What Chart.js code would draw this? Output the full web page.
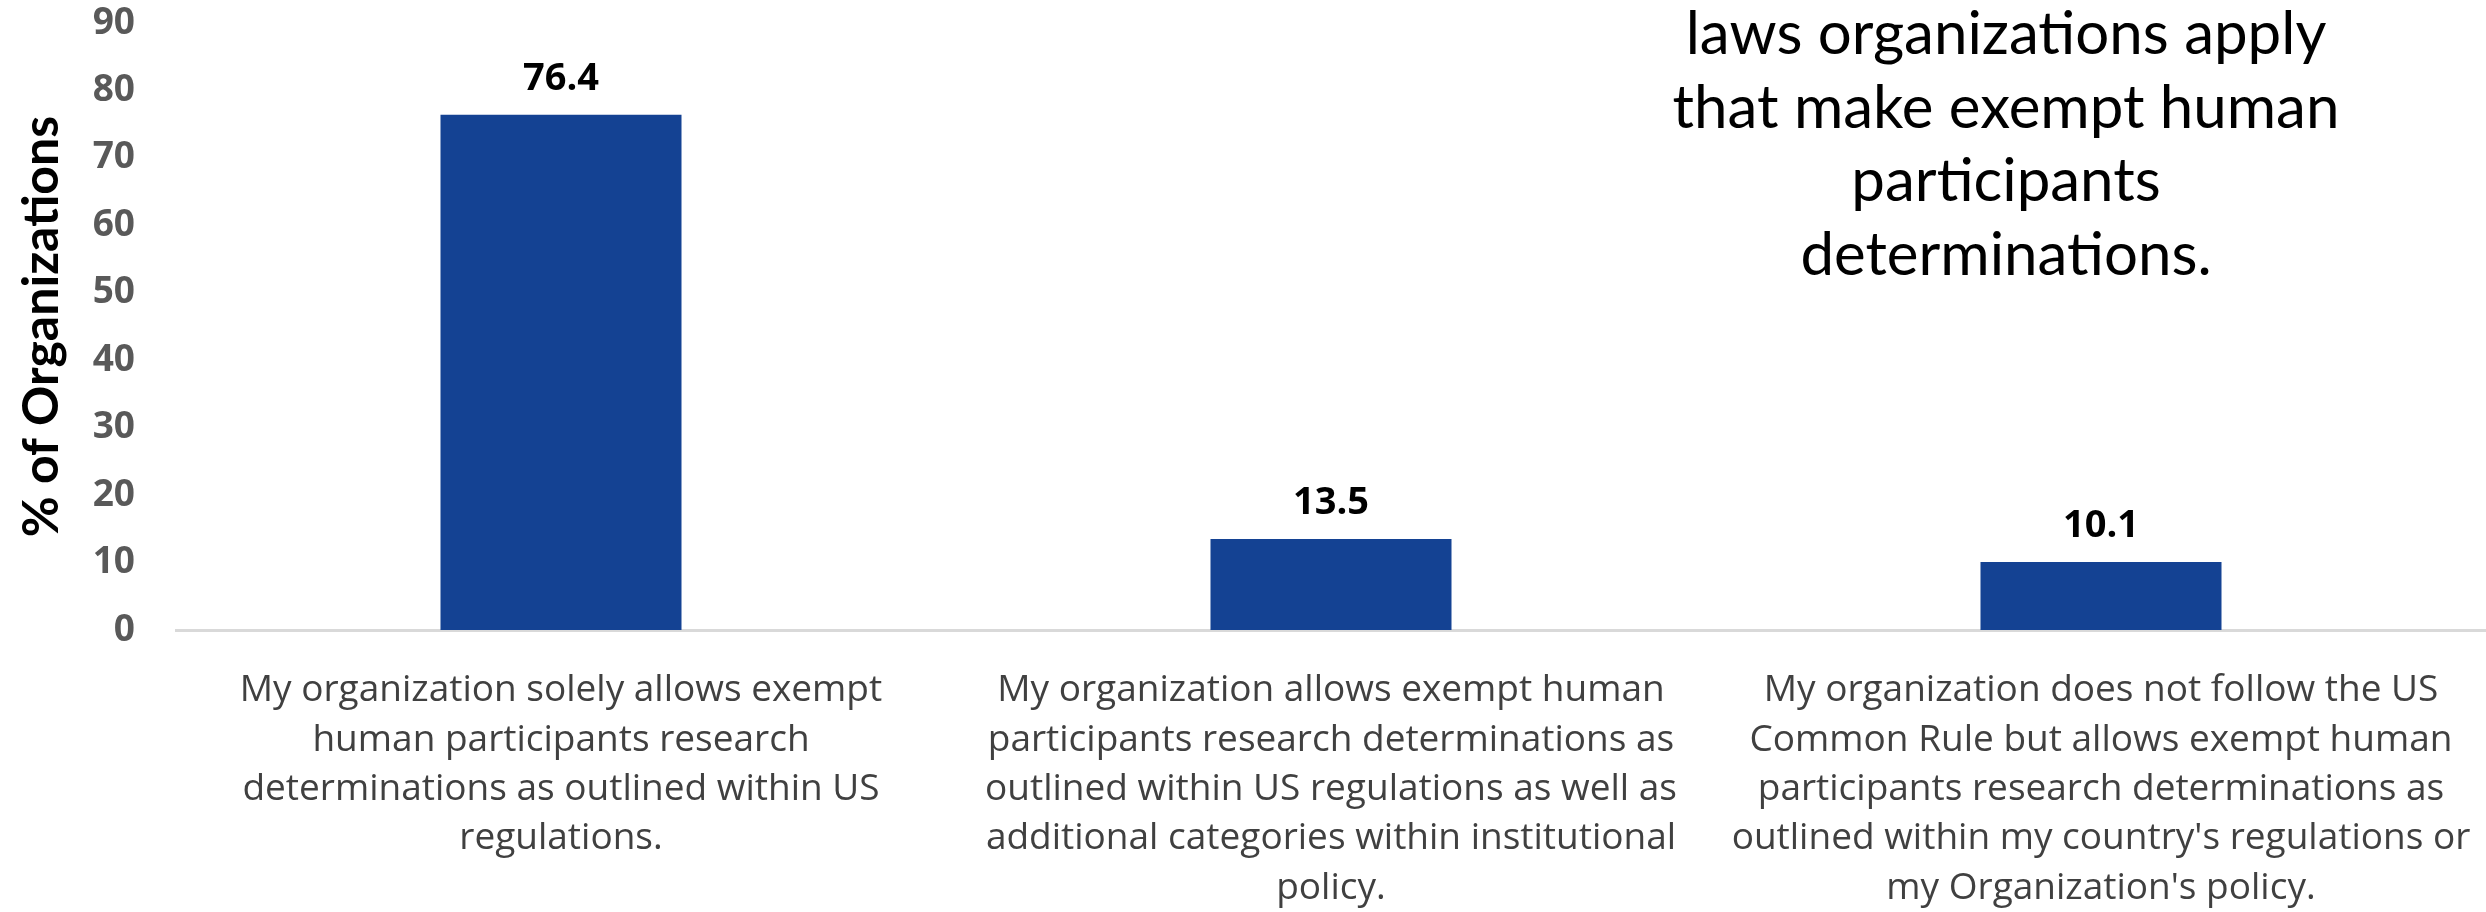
<!DOCTYPE html>
<html>
<head>
<meta charset="utf-8">
<title>Exempt determinations</title>
<script src="https://cdn.jsdelivr.net/npm/chart.js@4.4.1/dist/chart.umd.min.js"></script>
<style>
  html, body { margin: 0; padding: 0; background: #ffffff; }
  #wrap { width: 2486px; height: 912px; position: relative; }
</style>
</head>
<body>
<div id="wrap"><canvas id="chart" width="2486" height="912"></canvas></div>
<script>
// categories, one array of lines per bar
const categories = [
    ['My organization solely allows exempt', 'human participants research', 'determinations as outlined within US', 'regulations.'],
    ['My organization allows exempt human', 'participants research determinations as', 'outlined within US regulations as well as', 'additional categories within institutional', 'policy.'],
    ['My organization does not follow the US', 'Common Rule but allows exempt human', 'participants research determinations as', "outlined within my country's regulations or", "my Organization's policy."]
];
const percentages = [76.4, 13.5, 10.1];

const yMin = 0;
const yMax = 90;
const yStep = 10;
const yTitle = '% of Organizations';

// part of the chart title that shows at the top right
const titleLines = [
    'laws organizations apply',
    'that make exempt human',
    'participants',
    'determinations.'
];

const barColor = '#144293';

// value labels above the bars
const valueLabels = {
    id: 'valueLabels',
    afterDatasetsDraw(chart) {
        const ctx = chart.ctx;
        const meta = chart.getDatasetMeta(0);
        ctx.save();
        ctx.font = 'bold 38px "Open Sans"';
        ctx.fillStyle = '#000000';
        ctx.textAlign = 'center';
        ctx.textBaseline = 'middle';
        meta.data.forEach((bar, i) => {
            ctx.fillText(percentages[i].toFixed(1), bar.x, bar.y - 36);
        });
        ctx.restore();
    }
};

// overlaid title text box
const titleBox = {
    id: 'titleBox',
    afterDraw(chart) {
        const ctx = chart.ctx;
        ctx.save();
        ctx.font = '60px Lato';
        ctx.fillStyle = '#000000';
        ctx.textAlign = 'center';
        ctx.textBaseline = 'middle';
        titleLines.forEach((line, i) => {
            ctx.fillText(line, 2006, 35 + i * 73.5);
        });
        ctx.restore();
    }
};

function drawChart() {
    Chart.defaults.font.family = '"Open Sans"';
    new Chart(document.getElementById('chart').getContext('2d'), {
        type: 'bar',
        data: {
            labels: categories,
            datasets: [{
                data: percentages,
                backgroundColor: barColor,
                borderWidth: 0,
                categoryPercentage: 1.0,
                barPercentage: 0.313
            }]
        },
        options: {
            responsive: false,
            animation: false,
            devicePixelRatio: 1,
            layout: { padding: 0 },
            plugins: {
                legend: { display: false },
                tooltip: { enabled: false }
            },
            scales: {
                x: {
                    grid: { display: false, drawTicks: false },
                    border: { display: true, color: '#d9d9d9', width: 3 },
                    ticks: {
                        color: '#404040',
                        font: { size: 37, lineHeight: 1.335 },
                        padding: 36,
                        maxRotation: 0,
                        autoSkip: false
                    },
                    afterFit(scale) {
                        scale.height = 282;
                        scale.paddingLeft = 0;
                        scale.paddingRight = 0;
                    }
                },
                y: {
                    min: yMin,
                    max: yMax,
                    grid: { display: false, drawTicks: false },
                    border: { display: false },
                    ticks: {
                        stepSize: yStep,
                        color: '#595959',
                        font: { size: 37, weight: 'bold' },
                        padding: 41
                    },
                    title: {
                        display: true,
                        text: yTitle,
                        color: '#000000',
                        font: { family: 'Lato', size: 50, weight: 'bold' },
                        padding: { top: 12, bottom: 0 }
                    },
                    afterFit(scale) {
                        scale.width = 176;
                        scale.paddingTop = 23;
                        scale.paddingBottom = 23;
                    }
                }
            }
        },
        plugins: [valueLabels, titleBox]
    });
}

Promise.all([
    document.fonts.load('37px "Open Sans"'),
    document.fonts.load('bold 38px "Open Sans"'),
    document.fonts.load('60px Lato'),
    document.fonts.load('bold 50px Lato')
]).then(drawChart, drawChart);
</script>
</body>
</html>
